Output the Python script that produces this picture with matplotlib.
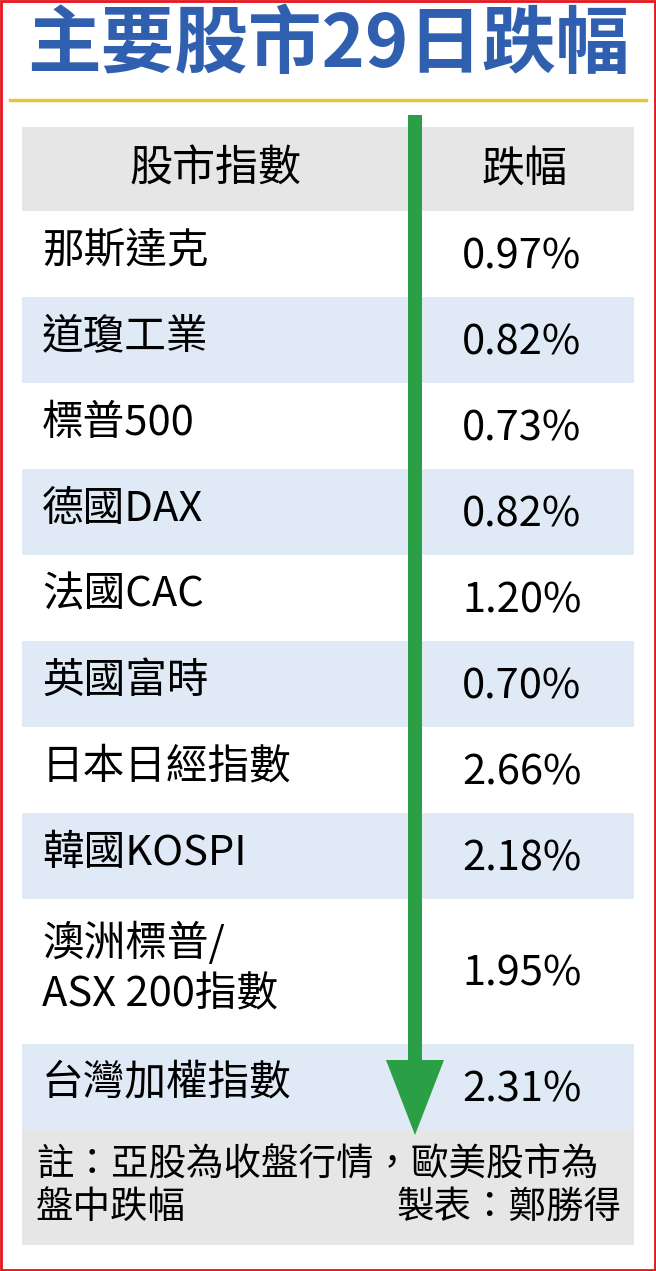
import matplotlib
matplotlib.use("Agg")
import matplotlib.pyplot as plt
from matplotlib.patches import Rectangle, FancyArrow

plt.rcParams['font.family'] = ['Noto Sans CJK TC', 'DejaVu Sans']

title = "主要股市29日跌幅"
headers = ["股市指數", "跌幅"]
indices = ["那斯達克", "道瓊工業", "標普500", "德國DAX", "法國CAC", "英國富時",
           "日本日經指數", "韓國KOSPI", "澳洲標普/\nASX 200指數", "台灣加權指數"]
drops = [0.97, 0.82, 0.73, 0.82, 1.20, 0.70, 2.66, 2.18, 1.95, 2.31]
note1 = "註：亞股為收盤行情，歐美股市為"
note2 = "盤中跌幅"
credit = "製表：鄭勝得"

W, H = 656, 1271
fig = plt.figure(figsize=(W/100, H/100), dpi=100)
ax = fig.add_axes([0, 0, 1, 1])
ax.set_xlim(0, W); ax.set_ylim(H, 0); ax.axis('off')

ax.add_patch(Rectangle((1, 1), W-2, H-2, fill=False, ec='#e8141c', lw=2))
ax.text(W/2, 46, title, ha='center', va='center', fontsize=53, fontweight='bold', color='#2f5fae')
ax.plot([10, 646], [100, 100], color='#e8c43a', lw=2.5)

x0, x1 = 22, 634
ax.add_patch(Rectangle((x0, 127), x1-x0, 84, color='#e6e6e6', lw=0))
ax.text(215, 170, headers[0], ha='center', va='center', fontsize=31)
ax.text(525, 170, headers[1], ha='center', va='center', fontsize=31)

y = 211
for i, (name, v) in enumerate(zip(indices, drops)):
    h = 145 if '\n' in name else 86
    if i % 2 == 1:
        ax.add_patch(Rectangle((x0, y), x1-x0, h, color='#dfeaf6', lw=0))
    ax.text(42, y + h/2 - 3, name, ha='left', va='center', fontsize=30, linespacing=1.3)
    ax.text(522, y + h/2 + 3, f"{v:.2f}%", ha='center', va='center', fontsize=30)
    y += h

ax.add_patch(Rectangle((x0, y), x1-x0, 115, color='#e6e6e6', lw=0))
ax.text(36, y + 35, note1, ha='left', va='center', fontsize=27)
ax.text(36, y + 77, note2, ha='left', va='center', fontsize=27)
ax.text(622, y + 77, credit, ha='right', va='center', fontsize=27)

ax.add_patch(FancyArrow(415, 115, 0, 1020, width=14, head_width=58, head_length=75,
                        length_includes_head=True, color='#2b9f45', lw=0))

fig.savefig("out.png", dpi=100)
